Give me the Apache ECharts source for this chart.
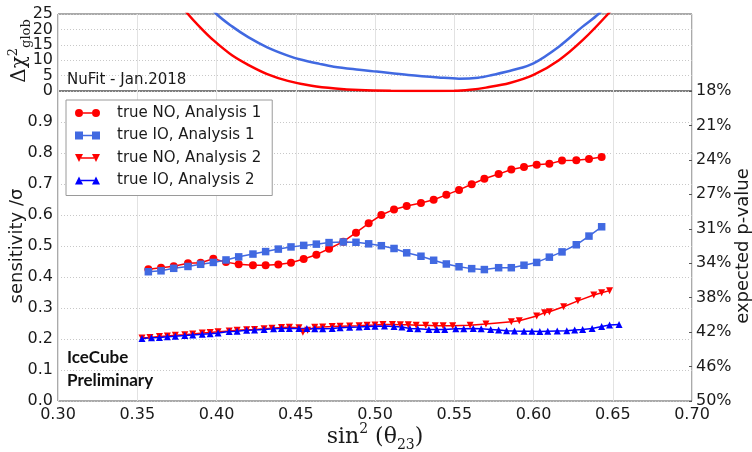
<!DOCTYPE html>
<html>
<head>
<meta charset="utf-8">
<script src="https://cdn.jsdelivr.net/npm/echarts@6/dist/echarts.min.js"></script>
<style>
  html, body { margin: 0; padding: 0; background: #ffffff; }
  #chart { width: 752px; height: 452px; }
</style>
</head>
<body>
<div id="chart"></div>
<script>
// ---- sin^2(theta23) grid of Analysis 1 ----
const xA1 = [0.357, 0.365, 0.373, 0.382, 0.390, 0.398, 0.406, 0.414, 0.423, 0.431, 0.439, 0.447,
             0.455, 0.463, 0.471, 0.480, 0.488, 0.496, 0.504, 0.512, 0.520, 0.529, 0.537, 0.545,
             0.553, 0.561, 0.569, 0.578, 0.586, 0.594, 0.602, 0.610, 0.618, 0.627, 0.635, 0.643];
// sensitivity [sigma], true NO, Analysis 1
const noA1 = [0.425, 0.430, 0.435, 0.444, 0.446, 0.459, 0.448, 0.441, 0.438, 0.438, 0.440, 0.446,
              0.458, 0.472, 0.491, 0.514, 0.543, 0.573, 0.600, 0.618, 0.629, 0.639, 0.649, 0.665,
              0.681, 0.699, 0.717, 0.732, 0.747, 0.755, 0.762, 0.765, 0.776, 0.777, 0.781, 0.787];
// sensitivity [sigma], true IO, Analysis 1
const ioA1 = [0.417, 0.420, 0.428, 0.434, 0.441, 0.447, 0.455, 0.465, 0.474, 0.482, 0.490, 0.497,
              0.502, 0.506, 0.511, 0.513, 0.512, 0.507, 0.501, 0.492, 0.478, 0.467, 0.454, 0.442,
              0.433, 0.427, 0.424, 0.430, 0.430, 0.438, 0.447, 0.464, 0.481, 0.504, 0.532, 0.562];

// ---- Analysis 2, true NO ----
const xNoA2 = [0.353, 0.358, 0.364, 0.369, 0.374, 0.380, 0.385, 0.391, 0.396, 0.401, 0.408, 0.413,
               0.419, 0.424, 0.430, 0.435, 0.441, 0.446, 0.452, 0.4545, 0.4575, 0.462, 0.467, 0.473,
               0.478, 0.484, 0.490, 0.495, 0.500, 0.505, 0.511, 0.516, 0.521, 0.526, 0.532, 0.538,
               0.543, 0.549, 0.560, 0.570, 0.586, 0.591, 0.602, 0.607, 0.610, 0.619, 0.628, 0.638,
               0.643, 0.648];
const noA2 = [0.203, 0.205, 0.208, 0.210, 0.212, 0.214, 0.216, 0.219, 0.221, 0.223, 0.226, 0.228,
              0.230, 0.231, 0.233, 0.235, 0.237, 0.238, 0.236, 0.222, 0.228, 0.238, 0.239, 0.240,
              0.241, 0.242, 0.243, 0.244, 0.245, 0.247, 0.247, 0.246, 0.246, 0.244, 0.244, 0.243,
              0.243, 0.243, 0.244, 0.248, 0.256, 0.259, 0.274, 0.285, 0.288, 0.304, 0.323, 0.342,
              0.349, 0.356];

// ---- Analysis 2, true IO ----
const xIoA2 = [0.353, 0.359, 0.364, 0.369, 0.374, 0.380, 0.385, 0.391, 0.396, 0.401, 0.408, 0.413,
               0.419, 0.424, 0.430, 0.436, 0.441, 0.446, 0.452, 0.457, 0.462, 0.467, 0.473, 0.478,
               0.484, 0.490, 0.495, 0.500, 0.506, 0.512, 0.517, 0.522, 0.527, 0.534, 0.539, 0.544,
               0.551, 0.556, 0.562, 0.567, 0.573, 0.578, 0.583, 0.588, 0.594, 0.599, 0.604, 0.609,
               0.615, 0.621, 0.626, 0.631, 0.637, 0.643, 0.648, 0.654];
const ioA2 = [0.202, 0.204, 0.205, 0.207, 0.209, 0.211, 0.213, 0.215, 0.217, 0.219, 0.224, 0.225,
              0.228, 0.229, 0.231, 0.233, 0.234, 0.234, 0.234, 0.234, 0.233, 0.233, 0.234, 0.236,
              0.238, 0.239, 0.240, 0.241, 0.242, 0.240, 0.239, 0.234, 0.233, 0.231, 0.231, 0.231,
              0.233, 0.233, 0.234, 0.233, 0.231, 0.229, 0.227, 0.226, 0.225, 0.225, 0.224, 0.225,
              0.226, 0.227, 0.229, 0.231, 0.234, 0.240, 0.245, 0.247];

// ---- NuFit global Delta chi^2 profiles ----
const xChiNO = [0.370, 0.382, 0.390, 0.398, 0.410, 0.420, 0.432, 0.445, 0.460, 0.475, 0.490, 0.510,
                0.530, 0.550, 0.560, 0.570, 0.585, 0.600, 0.616, 0.631, 0.647, 0.655];
const chiNO = [33, 25, 20.5, 16.5, 11.5, 8.5, 5.5, 3.3, 1.7, 0.8, 0.3, 0.05,
               0, 0.05, 0.4, 1.1, 2.6, 5.2, 10, 16.5, 25, 30];
const xChiIO = [0.390, 0.400, 0.410, 0.420, 0.432, 0.445, 0.453, 0.465, 0.474, 0.490, 0.501, 0.521,
                0.540, 0.553, 0.565, 0.574, 0.587, 0.600, 0.616, 0.631, 0.641, 0.650];
const chiIO = [31, 25, 20.9, 17.5, 14.2, 11.5, 10.2, 8.8, 7.9, 6.9, 6.3, 5.2,
               4.4, 4.0, 4.3, 5.2, 6.8, 9.0, 14.4, 20.9, 25, 30];

// right-hand axis: expected p-value tick labels, bottom to top
const pValueLabels = ['50%', '46%', '42%', '38%', '34%', '31%', '27%', '24%', '21%', '18%'];

const seriesNames = ['true NO, Analysis 1', 'true IO, Analysis 1', 'true NO, Analysis 2', 'true IO, Analysis 2'];

const RED = '#ff0000';
const ROYAL = '#4169e1';
const BLUE = '#0000ff';
const TXT = '#1a1a1a';
const SANS = '"DejaVu Sans", sans-serif';
const SERIF = '"DejaVu Serif", serif';

const pairs = (xs, ys) => xs.map((x, i) => [x, ys[i]]);

// legend glyphs: marker - line - marker
const iconCircle = 'path://M0,4A4,4,0,1,1,8,4A4,4,0,1,1,0,4Z M17,4A4,4,0,1,1,25,4A4,4,0,1,1,17,4Z M8,3.25L17,3.25L17,4.75L8,4.75Z';
const iconSquare = 'path://M0,0L8,0L8,8L0,8Z M17,0L25,0L25,8L17,8Z M8,3.25L17,3.25L17,4.75L8,4.75Z';
const iconDown = 'path://M0,0L8,0L4,8Z M17,0L25,0L21,8Z M6,3.25L19,3.25L19,4.75L6,4.75Z';
const iconUp = 'path://M0,8L8,8L4,0Z M17,8L25,8L21,0Z M6,3.25L19,3.25L19,4.75L6,4.75Z';

const chart = echarts.init(document.getElementById('chart'), null, { renderer: 'canvas' });

const gridLine = { show: true, lineStyle: { color: '#c8c8c8', type: [1, 2], width: 1 } };
const vGridLine = { show: true, lineStyle: { color: '#e2e2e2', type: 'solid', width: 1 } };
const tickLabel = { color: TXT, fontSize: 16, fontFamily: SANS, showMinLabel: true, showMaxLabel: true, hideOverlap: false };

const option = {
  animation: false,
  backgroundColor: '#ffffff',
  grid: [
    { left: 58, right: 60, top: 14, height: 77, show: true, borderColor: '#555', borderWidth: 1,
      backgroundColor: 'transparent', outerBoundsMode: 'none', containLabel: false },
    { left: 58, right: 60, top: 91, height: 310, show: true, borderColor: '#555', borderWidth: 1,
      backgroundColor: 'transparent', outerBoundsMode: 'none', containLabel: false }
  ],
  xAxis: [
    { type: 'value', gridIndex: 0, min: 0.3, max: 0.7, interval: 0.05,
      axisLine: { show: false }, axisTick: { show: false }, axisLabel: { show: false },
      splitLine: vGridLine },
    { type: 'value', gridIndex: 1, min: 0.3, max: 0.7, interval: 0.05,
      axisLine: { show: false }, axisTick: { show: false },
      axisLabel: Object.assign({}, tickLabel, { margin: 6, formatter: v => v.toFixed(2) }),
      splitLine: vGridLine,
      name: 'sin{s|2} (θ{b|23})', nameLocation: 'middle', nameGap: 21, nameMoveOverlap: false,
      nameTextStyle: {
        color: TXT, fontFamily: SERIF, fontSize: 22, lineHeight: 30,
        rich: {
          s: { fontFamily: SERIF, fontSize: 14, verticalAlign: 'top', lineHeight: 30, color: TXT },
          b: { fontFamily: SERIF, fontSize: 14, verticalAlign: 'bottom', lineHeight: 30, color: TXT }
        }
      }
    }
  ],
  yAxis: [
    // Delta chi^2 panel: inner tick labels 5..20 and grid lines
    { type: 'value', gridIndex: 0, min: 0, max: 25, interval: 5,
      axisLine: { show: false }, axisTick: { show: false },
      axisLabel: Object.assign({}, tickLabel, { margin: 5, showMinLabel: false, showMaxLabel: false }),
      splitLine: gridLine
    },
    { type: 'value', gridIndex: 1, min: 0, max: 1, interval: 0.1,
      axisLine: { show: false }, axisTick: { show: false },
      axisLabel: Object.assign({}, tickLabel, { margin: 5, formatter: v => (v >= 0.999 ? '' : v.toFixed(1)) }),
      splitLine: gridLine,
      name: 'sensitivity /σ', nameLocation: 'middle', nameRotate: 90, nameGap: 32, nameMoveOverlap: false,
      nameTextStyle: { color: TXT, fontFamily: SANS, fontSize: 18 }
    },
    { type: 'value', gridIndex: 1, position: 'right', min: 0, max: 9, interval: 1,
      axisLine: { show: false },
      axisTick: { show: true, inside: true, length: 3, lineStyle: { color: '#555' } },
      axisLabel: Object.assign({}, tickLabel, { margin: 4, formatter: v => pValueLabels[Math.round(v)] }),
      splitLine: { show: false },
      name: 'expected p-value', nameLocation: 'middle', nameRotate: 90, nameGap: 42, nameMoveOverlap: false,
      nameTextStyle: { color: TXT, fontFamily: SANS, fontSize: 18 }
    },
    // Delta chi^2 panel: end labels 0 and 25
    { type: 'value', gridIndex: 0, position: 'left', offset: 0, min: 0, max: 25, interval: 25,
      axisLine: { show: false }, axisTick: { show: false },
      axisLabel: Object.assign({}, tickLabel, { margin: 5 }),
      splitLine: { show: false }
    }
  ],
  legend: {
    orient: 'vertical', left: 66, top: 100,
    padding: [4, 11, 6, 9], itemGap: 4.5, itemWidth: 25, itemHeight: 8,
    backgroundColor: '#ffffff', borderColor: '#9a9a9a', borderWidth: 1, borderRadius: 0,
    textStyle: { color: TXT, fontSize: 15, fontFamily: SANS, lineHeight: 18, padding: [0, 0, 0, 12] },
    itemStyle: { borderWidth: 0 },
    selectedMode: false,
    data: [
      { name: seriesNames[0], icon: iconCircle },
      { name: seriesNames[1], icon: iconSquare },
      { name: seriesNames[2], icon: iconDown },
      { name: seriesNames[3], icon: iconUp }
    ]
  },
  graphic: [
    // y-axis title of the Delta chi^2 panel
    { type: 'text', x: 20, y: 51, rotation: Math.PI / 2, z: 10,
      style: {
        text: 'Δχ{s|2}{g|glob}', fill: TXT, align: 'center', verticalAlign: 'middle',
        font: '20px "DejaVu Serif"', lineHeight: 26,
        rich: {
          s: { font: '13px "DejaVu Serif"', verticalAlign: 'top', lineHeight: 26, fill: TXT },
          g: { font: '13px "DejaVu Serif"', verticalAlign: 'bottom', lineHeight: 26, fill: TXT }
        }
      } },
    { type: 'text', left: 67, top: 73, z: 10,
      style: { text: 'NuFit - Jan.2018', font: '15px "DejaVu Sans"', fill: TXT } },
    { type: 'text', left: 67, top: 349, z: 10,
      style: { text: 'IceCube', font: 'bold 17px Lato', fill: '#111' } },
    { type: 'text', left: 67, top: 372, z: 10,
      style: { text: 'Preliminary', font: 'bold 17px Lato', fill: '#111' } }
  ],
  series: [
    { name: 'chi2 NO', type: 'line', xAxisIndex: 0, yAxisIndex: 0, data: pairs(xChiNO, chiNO),
      showSymbol: false, smooth: 0.35, clip: true, lineStyle: { color: RED, width: 2.5 }, silent: true },
    { name: 'chi2 IO', type: 'line', xAxisIndex: 0, yAxisIndex: 0, data: pairs(xChiIO, chiIO),
      showSymbol: false, smooth: 0.35, clip: true, lineStyle: { color: ROYAL, width: 2.5 }, silent: true },
    { name: seriesNames[0], type: 'line', xAxisIndex: 1, yAxisIndex: 1, data: pairs(xA1, noA1),
      symbol: 'circle', symbolSize: 8, color: RED,
      itemStyle: { color: RED, borderWidth: 0 }, lineStyle: { color: RED, width: 1.5 } },
    { name: seriesNames[1], type: 'line', xAxisIndex: 1, yAxisIndex: 1, data: pairs(xA1, ioA1),
      symbol: 'rect', symbolSize: 7.5, color: ROYAL,
      itemStyle: { color: ROYAL, borderWidth: 0 }, lineStyle: { color: ROYAL, width: 1.5 } },
    { name: seriesNames[2], type: 'line', xAxisIndex: 1, yAxisIndex: 1, data: pairs(xNoA2, noA2),
      symbol: 'triangle', symbolRotate: 180, symbolSize: 7, color: RED,
      itemStyle: { color: RED, borderWidth: 0 }, lineStyle: { color: RED, width: 1.5 } },
    { name: seriesNames[3], type: 'line', xAxisIndex: 1, yAxisIndex: 1, data: pairs(xIoA2, ioA2),
      symbol: 'triangle', symbolSize: 7, color: BLUE,
      itemStyle: { color: BLUE, borderWidth: 0 }, lineStyle: { color: BLUE, width: 1.5 } }
  ]
};

chart.setOption(option);
</script>
</body>
</html>
